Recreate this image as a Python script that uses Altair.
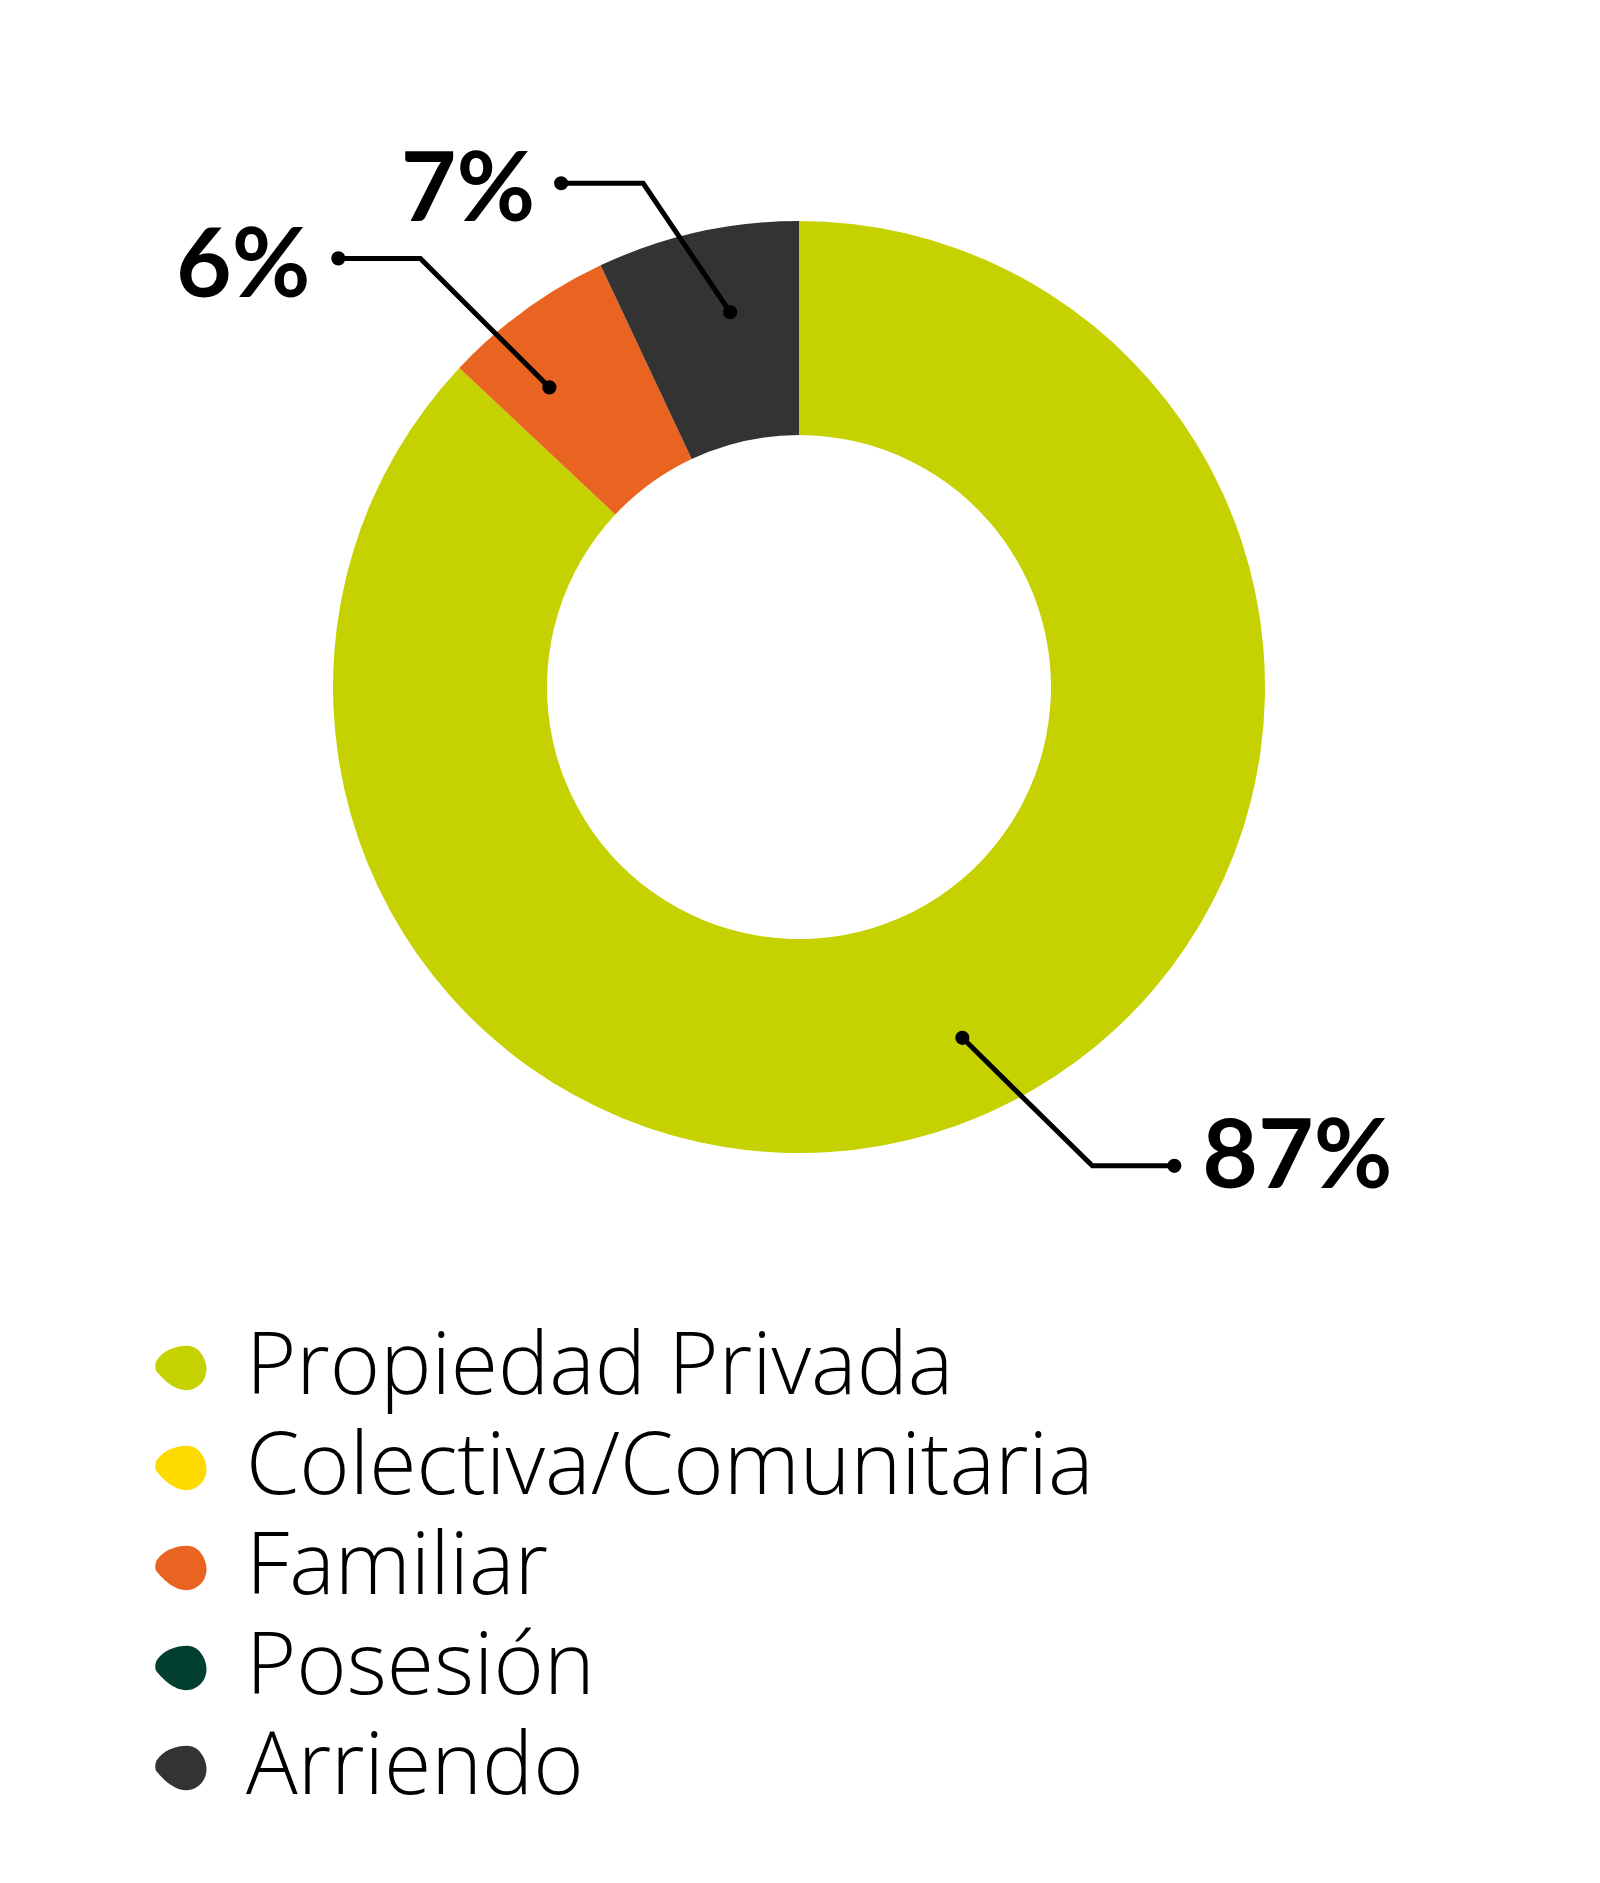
import math
import altair as alt
import pandas as pd

# ---------------- data ----------------
categories = ["Propiedad Privada", "Colectiva/Comunitaria", "Familiar", "Posesión", "Arriendo"]
values = [87, 0, 6, 0, 7]
colors = ["#C5D100", "#FFDA00", "#E86420", "#033F30", "#333333"]

# ---------------- layout constants ----------------
W, H = 1584, 1860          # plot area (page minus 8px margin)
CX, CY = 799, 687          # donut centre, page px
R_OUT, R_IN = 466, 252
LABEL_FONT = "Lato"
LEGEND_FONT = "Open Sans"
LEGEND_SYMBOL = ("M -0.95 -0.3 C -0.7 -0.7 -0.2 -0.87 0.25 -0.87 C 0.75 -0.87 1 -0.3 1 0.05 "
                 "C 1 0.5 0.65 0.87 0.2 0.87 C -0.3 0.87 -0.75 0.4 -0.97 0.12 "
                 "C -1.03 0.03 -1.02 -0.18 -0.95 -0.3 Z")
# leader geometry per labelled slice: dot position inside slice (fraction of slice, radius),
# elbow offset (dx, dy), horizontal run, text offset / align
LEADER = {
    "Propiedad Privada": dict(frac=0.495, r=387, dx=130, dy=128, run=82, tx=28, ty=22, align="left"),
    "Familiar": dict(frac=0.324, r=390, dx=-129, dy=-129, run=-82, tx=-28, ty=39, align="right"),
    "Arriendo": dict(frac=0.587, r=381, dx=-87, dy=-129, run=-82, tx=-26, ty=38, align="right"),
}

arc_df = pd.DataFrame({"cat": categories, "val": values, "idx": range(len(categories))})

# compute annotation geometry from slice shares
total = sum(values)
cum = 0.0
line_rows, dot_rows, text_rows = [], [], []
for c, v in zip(categories, values):
    if v > 0 and c in LEADER:
        L = LEADER[c]
        a = (cum + v * L["frac"]) / total * 2 * math.pi
        x0 = CX + L["r"] * math.sin(a)
        y0 = CY - L["r"] * math.cos(a)
        x1, y1 = x0 + L["dx"], y0 + L["dy"]
        x2, y2 = x1 + L["run"], y1
        for k, (px, py) in enumerate([(x0, y0), (x1, y1), (x2, y2)]):
            line_rows.append({"cat": c, "k": k, "px": px, "py": py})
        dot_rows += [{"px": x0, "py": y0}, {"px": x2, "py": y2}]
        text_rows.append({"px": x2 + L["tx"], "py": y2 + L["ty"], "label": f"{v}%", "align": L["align"]})
    cum += v

line_df = pd.DataFrame(line_rows)
dot_df = pd.DataFrame(dot_rows)
text_df = pd.DataFrame(text_rows)

xs = alt.Scale(domain=[8, 8 + W], range=[0, W])
ys = alt.Scale(domain=[8, 8 + H], range=[0, H])

donut = alt.Chart(arc_df).mark_arc(radius=R_OUT, innerRadius=R_IN, stroke=None).encode(
    theta=alt.Theta("val:Q", stack=True),
    order=alt.Order("idx:Q"),
    color=alt.Color(
        "cat:N",
        scale=alt.Scale(domain=categories, range=colors),
        sort=categories,
        legend=alt.Legend(
            title=None,
            orient="none",
            legendX=130,
            legendY=1317,
            direction="vertical",
            symbolType=LEGEND_SYMBOL,
            symbolSize=2600,
            symbolStrokeWidth=0,
            symbolOpacity=1,
            labelFont=LEGEND_FONT,
            labelFontSize=86,
            labelFontWeight=300,
            labelColor="#000000",
            labelOffset=22,
            labelLimit=1200,
            rowPadding=14,
            padding=0,
        ),
    ),
    x=alt.value(CX - 8),
    y=alt.value(CY - 8),
)

lines = alt.Chart(line_df).mark_line(color="#000000", strokeWidth=5, strokeJoin="miter").encode(
    x=alt.X("px:Q", scale=xs, axis=None),
    y=alt.Y("py:Q", scale=ys, axis=None),
    detail="cat:N",
    order="k:Q",
)

dots = alt.Chart(dot_df).mark_circle(color="#000000", size=200, opacity=1).encode(
    x=alt.X("px:Q", scale=xs, axis=None),
    y=alt.Y("py:Q", scale=ys, axis=None),
)

texts_left = alt.Chart(text_df).transform_filter("datum.align == 'left'").mark_text(
    font=LABEL_FONT, fontSize=96, fontWeight="bold", color="#000000", align="left", baseline="alphabetic"
).encode(
    x=alt.X("px:Q", scale=xs, axis=None),
    y=alt.Y("py:Q", scale=ys, axis=None),
    text="label:N",
)
texts_right = alt.Chart(text_df).transform_filter("datum.align == 'right'").mark_text(
    font=LABEL_FONT, fontSize=96, fontWeight="bold", color="#000000", align="right", baseline="alphabetic"
).encode(
    x=alt.X("px:Q", scale=xs, axis=None),
    y=alt.Y("py:Q", scale=ys, axis=None),
    text="label:N",
)

chart = alt.layer(donut, lines, dots, texts_left, texts_right).properties(
    width=W, height=H, padding=0, autosize="none", background="#FFFFFF"
).configure_view(stroke=None)

chart.save("out.html", embed_options={"renderer": "svg", "actions": False})
